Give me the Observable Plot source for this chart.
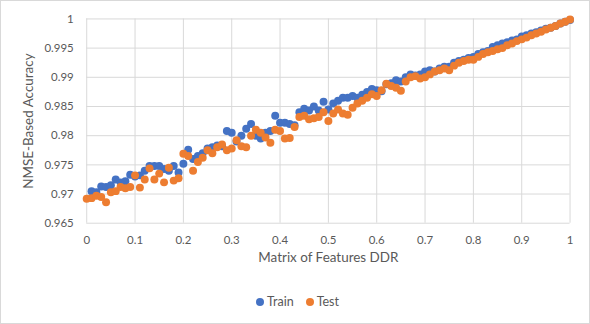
<!DOCTYPE html>
<html>
<head>
<meta charset="utf-8">
<script src="https://cdn.jsdelivr.net/npm/d3@7"></script>
<script src="https://cdn.jsdelivr.net/npm/@observablehq/plot@0.6"></script>
<style>
  html, body { margin: 0; padding: 0; background: #fff; }
  #chart { position: relative; width: 590px; height: 324px; box-sizing: border-box; border: 1px solid #d9d9d9; background: #fff; overflow: hidden; }
  #chart svg { position: absolute; left: -1px; top: -1px; }
  #legend { position: absolute; left: 255px; top: 293px; font: 12.5px Lato, "Liberation Sans", sans-serif; color: #595959; display: flex; align-items: center; gap: 12px; }
  #legend span.item { display: flex; align-items: center; gap: 3px; }
  #legend span.dot { width: 8px; height: 8px; border-radius: 50%; display: inline-block; }
</style>
</head>
<body>
<div id="chart"></div>
<script>
const seriesNames = ["Train", "Test"];
const seriesColors = ["#4472C4", "#ED7D31"];
const xTicks = [0, 0.1, 0.2, 0.3, 0.4, 0.5, 0.6, 0.7, 0.8, 0.9, 1];
const yTicks = [0.965, 0.97, 0.975, 0.98, 0.985, 0.99, 0.995, 1];

const trainX = [0.01,0.02,0.03,0.04,0.05,0.06,0.07,0.08,0.09,0.10,0.11,0.12,0.13,0.14,0.15,0.16,0.17,0.18,0.19,0.20,
  0.21,0.22,0.23,0.24,0.25,0.26,0.27,0.28,0.29,0.30,0.31,0.32,0.33,0.34,0.35,0.36,0.37,0.38,0.39,0.40,
  0.41,0.42,0.43,0.44,0.45,0.46,0.47,0.48,0.49,0.50,0.51,0.52,0.53,0.54,0.55,0.56,0.57,0.58,0.59,0.60,
  0.61,0.62,0.63,0.64,0.65,0.66,0.67,0.68,0.69,0.70,0.71,0.72,0.73,0.74,0.75,0.76,0.77,0.78,0.79,0.80,
  0.81,0.82,0.83,0.84,0.85,0.86,0.87,0.88,0.89,0.90,0.91,0.92,0.93,0.94,0.95,0.96,0.97,0.98,0.99,1.00];
const trainY = [0.9705,0.9703,0.9713,0.9712,0.9715,0.9725,0.9720,0.9722,0.9733,0.9730,0.9732,0.9740,0.9748,0.9748,0.9748,0.9743,0.9740,0.9748,0.9737,0.9752,
  0.9776,0.9760,0.9765,0.9770,0.9778,0.9780,0.9783,0.9782,0.9808,0.9805,0.9790,0.9800,0.9812,0.9820,0.9800,0.9795,0.9805,0.9808,0.9834,0.9822,
  0.9822,0.9820,0.9818,0.9840,0.9846,0.9843,0.9850,0.9843,0.9858,0.9845,0.9855,0.9860,0.9865,0.9865,0.9868,0.9865,0.9870,0.9875,0.9880,0.9878,
  0.9876,0.9888,0.9890,0.9895,0.9893,0.9900,0.9905,0.9903,0.9905,0.9910,0.9912,0.9910,0.9915,0.9918,0.9918,0.9925,0.9928,0.9930,0.9933,0.9935,
  0.9940,0.9943,0.9945,0.9952,0.9955,0.9958,0.9960,0.9963,0.9965,0.9970,0.9972,0.9975,0.9977,0.9980,0.9983,0.9985,0.9988,0.9992,0.9995,0.9998];

const testX = [0.00,0.01,0.02,0.03,0.04,0.05,0.06,0.07,0.08,0.09,0.10,0.11,0.12,0.13,0.14,0.15,0.16,0.17,0.18,0.19,0.20,
  0.21,0.22,0.23,0.24,0.25,0.26,0.27,0.28,0.29,0.30,0.31,0.32,0.33,0.34,0.35,0.36,0.37,0.38,0.39,0.40,
  0.41,0.42,0.43,0.44,0.45,0.46,0.47,0.48,0.49,0.50,0.51,0.52,0.53,0.54,0.55,0.56,0.57,0.58,0.59,0.60,
  0.61,0.62,0.63,0.64,0.65,0.66,0.67,0.68,0.69,0.70,0.71,0.72,0.73,0.74,0.75,0.76,0.77,0.78,0.79,0.80,
  0.81,0.82,0.83,0.84,0.85,0.86,0.87,0.88,0.89,0.90,0.91,0.92,0.93,0.94,0.95,0.96,0.97,0.98,0.99,1.00];
const testY = [0.9692,0.9693,0.9697,0.9695,0.9686,0.9703,0.9705,0.9712,0.9710,0.9712,0.9732,0.9711,0.9725,0.9744,0.9725,0.9735,0.9720,0.9745,0.9723,0.9727,0.9769,
  0.9765,0.9740,0.9755,0.9762,0.9775,0.9770,0.9780,0.9785,0.9775,0.9778,0.9792,0.9782,0.9780,0.9800,0.9810,0.9805,0.9797,0.9788,0.9810,0.9808,
  0.9795,0.9796,0.9815,0.9832,0.9834,0.9828,0.9830,0.9832,0.9840,0.9825,0.9838,0.9845,0.9838,0.9836,0.9848,0.9855,0.9860,0.9865,0.9871,0.9868,
  0.9878,0.9889,0.9885,0.9882,0.9877,0.9893,0.9900,0.9902,0.9898,0.9900,0.9905,0.9910,0.9912,0.9915,0.9912,0.9920,0.9925,0.9928,0.9930,0.9930,
  0.9935,0.9940,0.9943,0.9945,0.9948,0.9950,0.9955,0.9958,0.9962,0.9965,0.9968,0.9972,0.9975,0.9978,0.9982,0.9985,0.9988,0.9992,0.9995,0.9999];

const train = trainX.map((x, i) => ({x, y: trainY[i], s: seriesNames[0]}));
const test = testX.map((x, i) => ({x, y: testY[i], s: seriesNames[1]}));

const fmt = d3.format("~g");
const font = "Lato, 'Liberation Sans', sans-serif";

const plot = Plot.plot({
  width: 590,
  height: 282,
  marginLeft: 86.5,
  marginRight: 18.5,
  marginTop: 18.5,
  marginBottom: 58.5,
  style: {fontFamily: font, fontSize: "11.5px", color: "#595959", background: "transparent"},
  x: {domain: [0, 1], ticks: xTicks, tickFormat: fmt, label: null},
  y: {domain: [0.965, 1], ticks: yTicks, tickFormat: fmt, label: null},
  marks: [
    Plot.ruleX(xTicks, {x: d => d, stroke: "#d9d9d9", strokeWidth: 1}),
    Plot.ruleY(yTicks, {y: d => d, stroke: "#d9d9d9", strokeWidth: 1}),
    Plot.axisX({ticks: xTicks, tickFormat: fmt, tickSize: 0, tickPadding: 13, label: null, fill: "#595959"}),
    Plot.axisY({ticks: yTicks, tickFormat: fmt, tickSize: 0, tickPadding: 13, label: null, fill: "#595959"}),
    Plot.dot(train, {x: "x", y: "y", r: 4, fill: seriesColors[0], stroke: "none"}),
    Plot.dot(test, {x: "x", y: "y", r: 4, fill: seriesColors[1], stroke: "none"}),
    Plot.text(["Matrix of Features DDR"], {frameAnchor: "bottom", dy: 39, text: d => d, fontSize: 13.5, fill: "#595959", textAnchor: "middle"}),
    Plot.text(["NMSE-Based Accuracy"], {frameAnchor: "left", dx: -58, rotate: -90, text: d => d, fontSize: 13.5, fill: "#595959", textAnchor: "middle", lineAnchor: "middle"})
  ]
});

const chart = document.getElementById("chart");
chart.appendChild(plot);

const legend = document.createElement("div");
legend.id = "legend";
seriesNames.forEach((name, i) => {
  const item = document.createElement("span");
  item.className = "item";
  const dot = document.createElement("span");
  dot.className = "dot";
  dot.style.background = seriesColors[i];
  item.appendChild(dot);
  item.appendChild(document.createTextNode(name));
  legend.appendChild(item);
});
chart.appendChild(legend);
</script>
</body>
</html>
